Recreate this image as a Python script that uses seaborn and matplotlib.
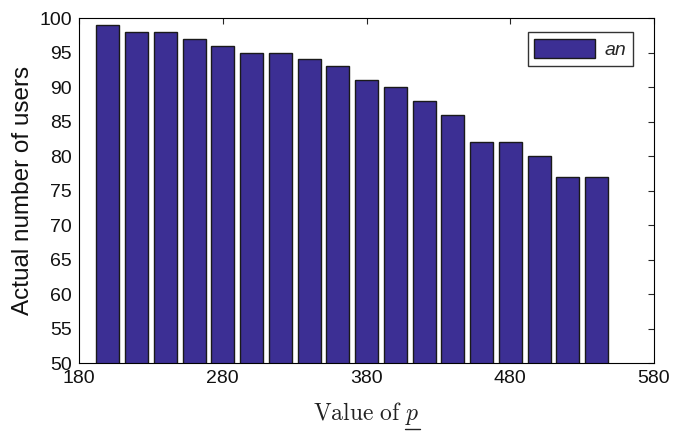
import matplotlib
matplotlib.use('Agg')
import matplotlib.pyplot as plt
from matplotlib.lines import Line2D
import seaborn as sns
import pandas as pd

# values
p_values = [200, 220, 240, 260, 280, 300, 320, 340, 360, 380, 400, 420, 440, 460, 480, 500, 520, 540]
actual_users = [99, 98, 98, 97, 96, 95, 95, 94, 93, 91, 90, 88, 86, 82, 82, 80, 77, 77]
x_ticks = [180, 280, 380, 480, 580]
y_ticks = list(range(50, 101, 5))

df = pd.DataFrame({'p': p_values, 'users': actual_users})

sns.set_style('white')
plt.rcParams['font.family'] = ['Liberation Sans', 'DejaVu Sans']
plt.rcParams['mathtext.fontset'] = 'cm'

fig = plt.figure(figsize=(6.73, 4.38), dpi=100)
ax = fig.add_axes([0.1174, 0.1712, 0.8544, 0.7877])

sns.barplot(data=df, x='p', y='users', native_scale=True, width=0.8,
            color='#3c2f94', saturation=1, edgecolor='#1a1a1a', linewidth=1.0,
            label='an', ax=ax)

ax.set_xlim(180, 580)
ax.set_ylim(50, 100)
ax.set_xticks(x_ticks)
ax.set_yticks(y_ticks)
ax.tick_params(direction='in', top=True, right=True, labelsize=14, length=4,
               width=0.8, pad=5, labelcolor='#111111')
for s in ax.spines.values():
    s.set_visible(True)
    s.set_color('black')
    s.set_linewidth(0.8)

ax.set_ylabel('Actual number of users', fontsize=17.5, color='#111111', labelpad=4)
ax.set_xlabel('')

# x label in Computer Modern with an underlined italic p
xl = ax.text(0.5, -0.165, r'$\mathrm{Value\ of}\ p$', fontsize=17, ha='center',
             va='baseline', color='#222222', transform=ax.transAxes)
fig.canvas.draw()
r = fig.canvas.get_renderer()
bb = xl.get_window_extent(r)
tmp = fig.text(0, 0, r'$p$', fontsize=17)
pw = tmp.get_window_extent(r).width
tmp.remove()
W, H = fig.bbox.width, fig.bbox.height
uy = (bb.y0 - 2) / H
fig.add_artist(Line2D([(bb.x1 - pw) / W, bb.x1 / W], [uy, uy], color='#222222', lw=1.0))

leg = ax.legend(loc='upper right', fontsize=14, frameon=True, fancybox=False,
                edgecolor='black', handlelength=3.1, handleheight=1.1,
                handletextpad=0.5, borderpad=0.35, borderaxespad=0,
                bbox_to_anchor=(0.9635, 0.959))
leg.get_frame().set_linewidth(1.0)
for t in leg.get_texts():
    t.set_fontstyle('italic')

fig.savefig('out.png', dpi=100)
